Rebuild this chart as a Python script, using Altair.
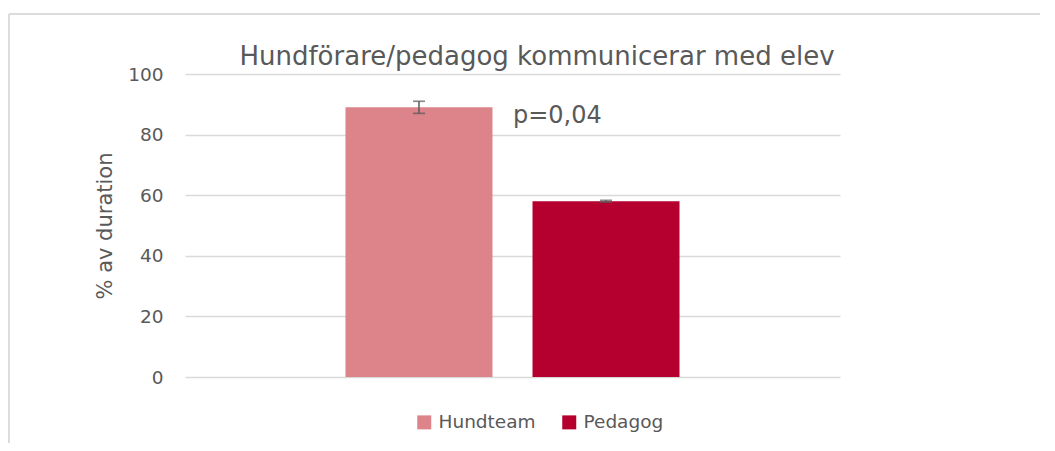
import altair as alt
import pandas as pd

series = ["Hundteam", "Pedagog"]
values = [89.0, 58.0]
errors = [2.0, 0.3]
colors = ["#dc848a", "#b5002f"]
title_text = "Hundförare/pedagog kommunicerar med elev"
p_text = "p=0,04"
y_ticks = [0, 20, 40, 60, 80, 100]

df = pd.DataFrame({
    "serie": series,
    "value": values,
    "lo": [v - e for v, e in zip(values, errors)],
    "hi": [v + e for v, e in zip(values, errors)],
})

FONT = "DejaVu Sans"
GREY = "#595959"
W, H = 655, 303

xscale = alt.Scale(domain=series, paddingInner=0.214, paddingOuter=0.858)
x = alt.X("serie:N", scale=xscale, axis=None, sort=series)
yscale = alt.Scale(domain=[0, 100])

bars = alt.Chart(df).mark_bar().encode(
    x=x,
    y=alt.Y("value:Q", scale=yscale,
            axis=alt.Axis(values=y_ticks, title="% av duration", domain=False, ticks=False,
                          gridColor="#d9d9d9", gridWidth=1.3, labelPadding=22,
                          labelFontSize=18.5, labelColor=GREY, labelFont=FONT,
                          titleFontSize=21, titleColor=GREY, titleFont=FONT,
                          titleFontWeight="normal", titlePadding=12)),
    color=alt.Color("serie:N", scale=alt.Scale(domain=series, range=colors),
                    legend=alt.Legend(title=None, orient="none", direction="horizontal",
                                      legendX=230, legendY=339, symbolType="square",
                                      symbolSize=196, symbolStrokeWidth=0,
                                      labelFontSize=18.5, labelFont=FONT, labelColor=GREY,
                                      labelOffset=5, columnPadding=24)),
)

rule = alt.Chart(df).mark_rule(color=GREY, strokeWidth=1.5).encode(
    x=x, y=alt.Y("lo:Q", scale=yscale), y2="hi:Q")
cap_lo = alt.Chart(df).mark_tick(color=GREY, size=12, thickness=1.7).encode(
    x=x, y=alt.Y("lo:Q", scale=yscale))
cap_hi = alt.Chart(df).mark_tick(color=GREY, size=12, thickness=1.7).encode(
    x=x, y=alt.Y("hi:Q", scale=yscale))

title = alt.Chart(pd.DataFrame({"t": [title_text]})).mark_text(
    font=FONT, fontSize=26, color=GREY, align="center", baseline="alphabetic"
).encode(x=alt.value(352), y=alt.value(-9), text="t:N")

ptxt = alt.Chart(pd.DataFrame({"t": [p_text]})).mark_text(
    font=FONT, fontSize=24, color=GREY, align="left", baseline="alphabetic"
).encode(x=alt.value(328), y=alt.value(49), text="t:N")

border_top = alt.Chart(pd.DataFrame({"a": [0]})).mark_rule(color="#d0d0d0", strokeWidth=1.5).encode(
    x=alt.value(-176), x2=alt.value(900), y=alt.value(-60))
border_left = alt.Chart(pd.DataFrame({"a": [0]})).mark_rule(color="#d0d0d0", strokeWidth=1.5).encode(
    x=alt.value(-176), y=alt.value(-60), y2=alt.value(400))

chart = alt.layer(border_top, border_left, bars, rule, cap_lo, cap_hi, title, ptxt).properties(
    width=W, height=H,
    autosize=alt.AutoSizeParams(type="none"),
    padding={"left": 177, "top": 66, "right": 200, "bottom": 66},
).configure_view(stroke=None).configure_axis(labelFont=FONT, titleFont=FONT)

chart.save("out.html", embed_options={"renderer": "svg", "actions": False})
